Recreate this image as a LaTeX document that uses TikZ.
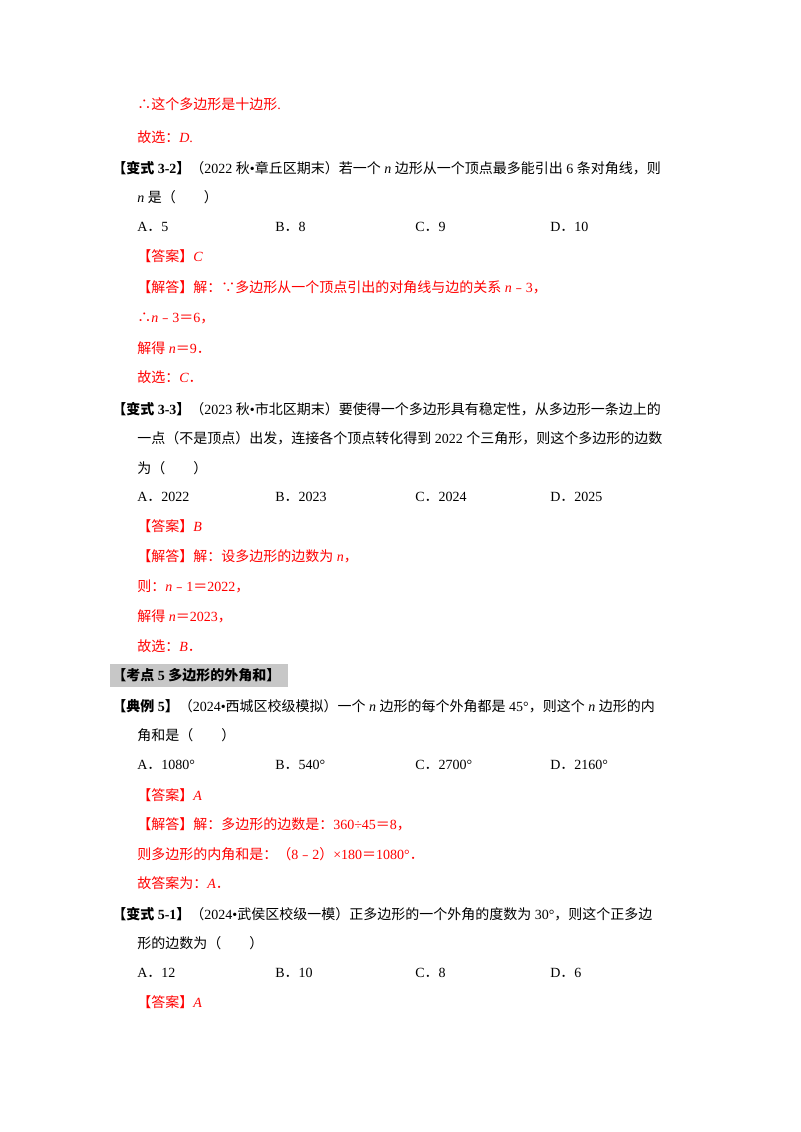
\documentclass[tikz,border=0pt]{standalone}
\usepackage{fontspec}
\setmainfont{Liberation Serif}
\newfontfamily\cjk{Noto Sans CJK SC}
\XeTeXinterchartokenstate=1
\newXeTeXintercharclass\cjkclass
\makeatletter
\count@="3000 \loop\ifnum\count@<"303F \XeTeXcharclass\count@=\cjkclass \advance\count@ 1 \repeat
\count@="4E00 \loop\ifnum\count@<"9FFF \XeTeXcharclass\count@=\cjkclass \advance\count@ 1 \repeat
\count@="FE30 \loop\ifnum\count@<"FE6F \XeTeXcharclass\count@=\cjkclass \advance\count@ 1 \repeat
\count@="FF00 \loop\ifnum\count@<"FFEF \XeTeXcharclass\count@=\cjkclass \advance\count@ 1 \repeat
\makeatother
\XeTeXcharclass"2234=\cjkclass
\XeTeXcharclass"2235=\cjkclass
\XeTeXinterchartoks 0 \cjkclass = {\cjk}
\XeTeXinterchartoks 4095 \cjkclass = {\cjk}
\XeTeXinterchartoks \cjkclass 0 = {\rmfamily}
\XeTeXinterchartoks \cjkclass 4095 = {\rmfamily}
\definecolor{ans}{RGB}{255,0,0}
\newcommand\itl[1]{{\rmfamily\itshape #1}}
\newcommand\vn{\itl{n}}
\begin{document}
\begin{tikzpicture}[x=0.75pt,y=-0.75pt,
  t/.style={anchor=west,inner sep=0pt,font=\fontsize{10.5}{12}\selectfont},
  r/.style={t,text=ans}]
\useasboundingbox (0,0) rectangle (800,1132);
\fill[white] (0,0) rectangle (800,1132);
\node[r] (l1) at (137,104) {∴这个多边形是十边形\rmfamily .};
\node[r] (l2) at (137,137) {故选：\itl{D}\rmfamily .};
\node[t] (l3) at (112,168) {\textbf{【变式 3-2】}（\rmfamily 2022 秋•章丘区期末）若一个 \vn{} 边形从一个顶点最多能引出 \rmfamily 6 条对角线，则};
\node[t] (l4) at (137,197) {\vn{} 是（　　）};
\node[t] (a1) at (137,227) {A．5};
\node[t] (b1) at (275,227) {B．8};
\node[t] (c1) at (415,227) {C．9};
\node[t] (d1) at (550,227) {D．10};
\node[r] (l5) at (137,256) {【答案】\itl{C}};
\node[r] (l6) at (137,287) {【解答】解：∵多边形从一个顶点引出的对角线与边的关系 \vn﹣\rmfamily 3，};
\node[r] (l7) at (137,318) {∴\vn﹣\rmfamily 3＝\rmfamily 6，};
\node[r] (l8) at (137,348) {解得 \vn＝\rmfamily 9．};
\node[r] (l9) at (137,377) {故选：\itl{C}．};
\node[t] (l10) at (112,409) {\textbf{【变式 3-3】}（\rmfamily 2023 秋•市北区期末）要使得一个多边形具有稳定性，从多边形一条边上的};
\node[t] (l11) at (137,438) {一点（不是顶点）出发，连接各个顶点转化得到 \rmfamily 2022 个三角形，则这个多边形的边数};
\node[t] (l12) at (137,468) {为（　　）};
\node[t] (a2) at (137,497) {A．2022};
\node[t] (b2) at (275,497) {B．2023};
\node[t] (c2) at (415,497) {C．2024};
\node[t] (d2) at (550,497) {D．2025};
\node[r] (l13) at (137,526) {【答案】\itl{B}};
\node[r] (l14) at (137,556) {【解答】解：设多边形的边数为 \vn，};
\node[r] (l15) at (137,586) {则：\vn﹣\rmfamily 1＝\rmfamily 2022，};
\node[r] (l16) at (137,616) {解得 \vn＝\rmfamily 2023，};
\node[r] (l17) at (137,646) {故选：\itl{B}．};
\fill[black!22] (110,664) rectangle (288,687);
\node[t,font=\fontsize{10.5}{12}\selectfont\bfseries] (h) at (112,675) {【考点 \rmfamily 5 多边形的外角和】};
\node[t] (l18) at (112,706) {\textbf{【典例 5】}（\rmfamily 2024•西城区校级模拟）一个 \vn{} 边形的每个外角都是 \rmfamily 45°，则这个 \vn{} 边形的内};
\node[t] (l19) at (137,735) {角和是（　　）};
\node[t] (a3) at (137,765) {A．1080°};
\node[t] (b3) at (275,765) {B．540°};
\node[t] (c3) at (415,765) {C．2700°};
\node[t] (d3) at (550,765) {D．2160°};
\node[r] (l20) at (137,795) {【答案】\itl{A}};
\node[r] (l21) at (137,824) {【解答】解：多边形的边数是：\rmfamily 360÷45＝\rmfamily 8，};
\node[r] (l22) at (137,854) {则多边形的内角和是：（\rmfamily 8﹣\rmfamily 2）\rmfamily ×180＝\rmfamily 1080°．};
\node[r] (l23) at (137,883) {故答案为：\itl{A}．};
\node[t] (l24) at (112,914) {\textbf{【变式 5-1】}（\rmfamily 2024•武侯区校级一模）正多边形的一个外角的度数为 \rmfamily 30°，则这个正多边};
\node[t] (l25) at (137,943) {形的边数为（　　）};
\node[t] (a4) at (137,973) {A．12};
\node[t] (b4) at (275,973) {B．10};
\node[t] (c4) at (415,973) {C．8};
\node[t] (d4) at (550,973) {D．6};
\node[r] (l26) at (137,1002) {【答案】\itl{A}};
\end{tikzpicture}
\end{document}
